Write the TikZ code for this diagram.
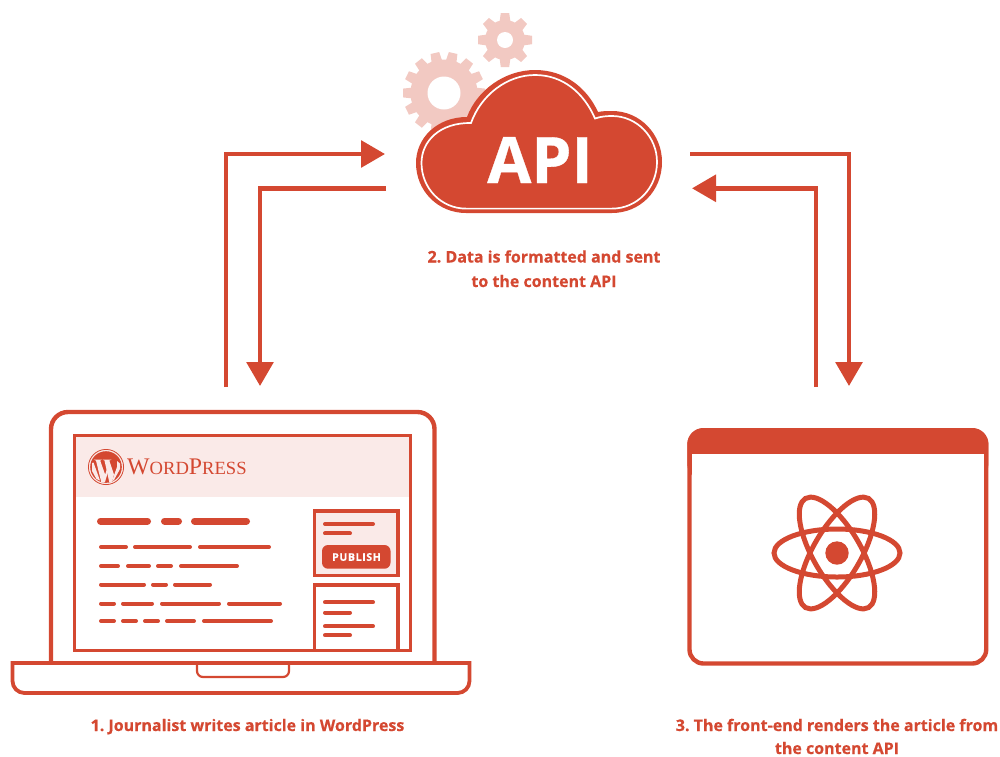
\documentclass[tikz,border=0pt]{standalone}
\usepackage{fontspec}
\setmainfont[BoldFeatures={FakeBold=0.5}]{Open Sans}
\newfontfamily\wpfont{Liberation Serif}
\usetikzlibrary{arrows.meta}
\definecolor{brandred}{HTML}{D44831}
\definecolor{softpink}{HTML}{FAEAE8}
\definecolor{gearpink}{HTML}{F2C9C2}
\tikzset{
  flowline/.style={draw=brandred,line width=4.5pt,line join=miter},
  flowarrow/.style={flowline,-{Triangle[length=24pt,width=26.5pt]}},
  caption/.style={text=brandred,font=\bfseries\fontsize{16}{24}\selectfont,align=center,inner sep=0pt},
  frameline/.style={draw=brandred,line width=4.4pt},
  screenline/.style={draw=brandred,line width=3.1pt},
  titlebar/.style={draw=brandred,line width=7pt,line cap=round},
  textbar/.style={draw=brandred,line width=4pt,line cap=round},
  gearfill/.style={fill=gearpink,draw=none},
}
\newcommand{\txtbars}[2]{\foreach \a/\b in {#2}{\draw[textbar] (\a,#1) -- (\b,#1);}}
\begin{document}
\frenchspacing
\begin{tikzpicture}[x=1pt,y=-1pt]
\useasboundingbox (0,0) rectangle (1000,756);
% gears
\begin{scope}[shift={(444,93)}]
  \fill[gearfill] (0,0) circle (33.5);
  \foreach \r in {0,25.714,...,340}{
    \fill[gearfill,rotate=\r+12.857] (-5.6,-30) -- (-4.4,-41) -- (4.4,-41) -- (5.6,-30) -- cycle;}
  \fill[white] (0,0) circle (16.5);
\end{scope}
\begin{scope}[shift={(505,40)}]
  \fill[gearfill] (0,0) circle (20);
  \foreach \r in {0,45,...,315}{
    \fill[gearfill,rotate=\r] (-5.6,-17) -- (-4.2,-27) -- (4.2,-27) -- (5.6,-17) -- cycle;}
  \fill[white] (0,0) circle (8);
\end{scope}
% cloud
\fill[brandred] (466,213) .. controls (438,213) and (416,191) .. (416,163)
  .. controls (416,138) and (437,117) .. (467,117)
  .. controls (477,90) and (505,70) .. (535,70)
  .. controls (565,70) and (587,88) .. (598,112)
  .. controls (603,111) and (607,111) .. (612,111)
  .. controls (640,111) and (662,134) .. (662,162)
  .. controls (662,191) and (640,213) .. (612,213) -- cycle;
\draw[white,line width=1.7pt] (466,208.6) .. controls (441,208.6) and (421.5,188) .. (421.5,163)
  .. controls (421.5,141) and (440,122.5) .. (471,123)
  .. controls (481,95) and (507,75) .. (535,75)
  .. controls (563,75) and (584,93) .. (595,118.5)
  .. controls (601,116.5) and (606,116) .. (612,116)
  .. controls (637,116) and (657,137) .. (657,162)
  .. controls (657,188) and (637,208.6) .. (612,208.6) -- cycle;
\node[text=white,font=\bfseries\fontsize{64}{64}\selectfont,inner sep=0pt,anchor=base] (apitext) at (540,183) {API};
% anchors of connectors
\coordinate (apiInL) at (385,154);
\coordinate (apiOutL) at (386,188.3);
\coordinate (apiOutR) at (690,154);
\coordinate (apiInR) at (692,188.3);
\coordinate (wpOut) at (226,387);
\coordinate (wpIn) at (260,386);
\coordinate (feIn) at (849,386);
\coordinate (feOut) at (816,387);
\draw[flowarrow] (wpOut) |- (apiInL);
\draw[flowarrow] (apiOutL) -| (wpIn);
\draw[flowarrow] (apiOutR) -| (feIn);
\draw[flowarrow] (feOut) |- (apiInR);
% captions
\node[caption,anchor=base] (cap2a) at (544,262.5) {2. Data is formatted and sent};
\node[caption,anchor=base] (cap2b) at (544,287) {to the content API};
\node[caption,anchor=base] (cap1) at (247.5,731) {1. Journalist writes article in WordPress};
\node[caption,anchor=base] (cap3a) at (837,731) {3. The front-end renders the article from};
\node[caption,anchor=base] (cap3b) at (837,754) {the content API};
% laptop lid
\draw[frameline,rounded corners=17pt] (51,663) -- (51,412) -- (434.5,412) -- (434.5,663);
% screen
\fill[softpink] (75,436) rectangle (410,497);
\draw[screenline] (74.6,435.6) rectangle (410.7,650.6);
% base
\draw[frameline,line width=3.8pt] (12.5,663) -- (469.5,663);
\draw[frameline,line width=3.8pt,rounded corners=12pt] (12.5,661.2) -- (12.5,693) -- (469.5,693) -- (469.5,661.2);
\draw[brandred,line width=2.2pt,rounded corners=6pt] (197,664) -- (197,677) -- (289,677) -- (289,664);
% WordPress logo
\draw[brandred,line width=0.8pt] (106,467) circle (17.6);
\fill[brandred] (106,467) circle (15.8);
\begin{scope}[shift={(106,467)}]
  \clip (0,0) circle (15.8);
  \fill[softpink] (-12.5,-7.5) -- (-4,-7.5) -- (-5.8,-6.4) -- (0,10) -- (-2.5,16) -- (-4.5,16) -- (-10,-6.4) -- cycle;
  \fill[softpink] (-3.5,-7.5) -- (5.5,-7.5) -- (3.3,-6.4) -- (8,7.5) -- (5.5,16) -- (3.5,16) -- (-1.5,-6.4) -- cycle;
  \fill[softpink] (-3.5,15) -- (2,-1) -- (3,1.5) -- (-1,15) -- cycle;
  \fill[softpink] (6,14) -- (11,0) -- (11,-6) -- (14,-3.5) -- (14,2) -- (8,13) -- cycle;
  \fill[softpink] (-14,-4) -- (-12.5,-4.5) -- (-6,13.5) -- (-9.5,12) -- (-14,4) -- cycle;
\end{scope}
\node[text=brandred,inner sep=0pt,anchor=base west] (wplogo) at (127,474.5) {\wpfont\fontsize{23.8}{24}\selectfont W\fontsize{18.6}{24}\selectfont ORD\fontsize{23.8}{24}\selectfont P\fontsize{18.6}{24}\selectfont RESS};
% article text
\draw[titlebar] (100.5,521) -- (147.5,521);
\draw[titlebar] (164.5,521) -- (178.5,521);
\draw[titlebar] (194.5,521) -- (246.5,521);
\txtbars{547}{101/126,135/190,200/269}
\txtbars{566}{101/118,128/149,158/171,181/237}
\txtbars{584.5}{101/144,153/166,175/210}
\txtbars{603.5}{101/114,123/152,162/219,229/280}
\txtbars{621}{101/114,123/136,145/158,167/194,204/271}
% side boxes
\draw[screenline,fill=softpink] (314.4,511) rectangle (398,575.5);
\draw[screenline] (314.4,585) rectangle (398,650.6);
\txtbars{524}{325/373}
\txtbars{533.4}{325/350}
\txtbars{602.3}{325/373}
\txtbars{612.5}{325/350}
\txtbars{626.3}{325/373}
\txtbars{635.3}{325/350}
\fill[brandred,rounded corners=6pt] (322,545) rectangle (390.5,568.7);
\node[text=white,font=\bfseries\fontsize{10.5}{11}\selectfont,inner sep=0pt] (publish) at (356.5,557) {\addfontfeature{LetterSpace=6}PUBLISH};
% browser window
\draw[frameline,rounded corners=14pt] (689.5,430.5) rectangle (986.2,663.5);
\fill[brandred,rounded corners=16pt] (687.3,480) -- (687.3,428) -- (988.4,428) -- (988.4,480) -- cycle;
\fill[white] (691.7,454) -- (984,454) -- (984,490) -- (691.7,490) -- cycle;
% atom
\foreach \r in {0,60,120}{
  \draw[brandred,line width=5pt,rotate around={\r:(837,553)}] (837,553) ellipse[x radius=63,y radius=24];}
\fill[brandred] (837,553) circle (11.7);
\end{tikzpicture}
\end{document}
